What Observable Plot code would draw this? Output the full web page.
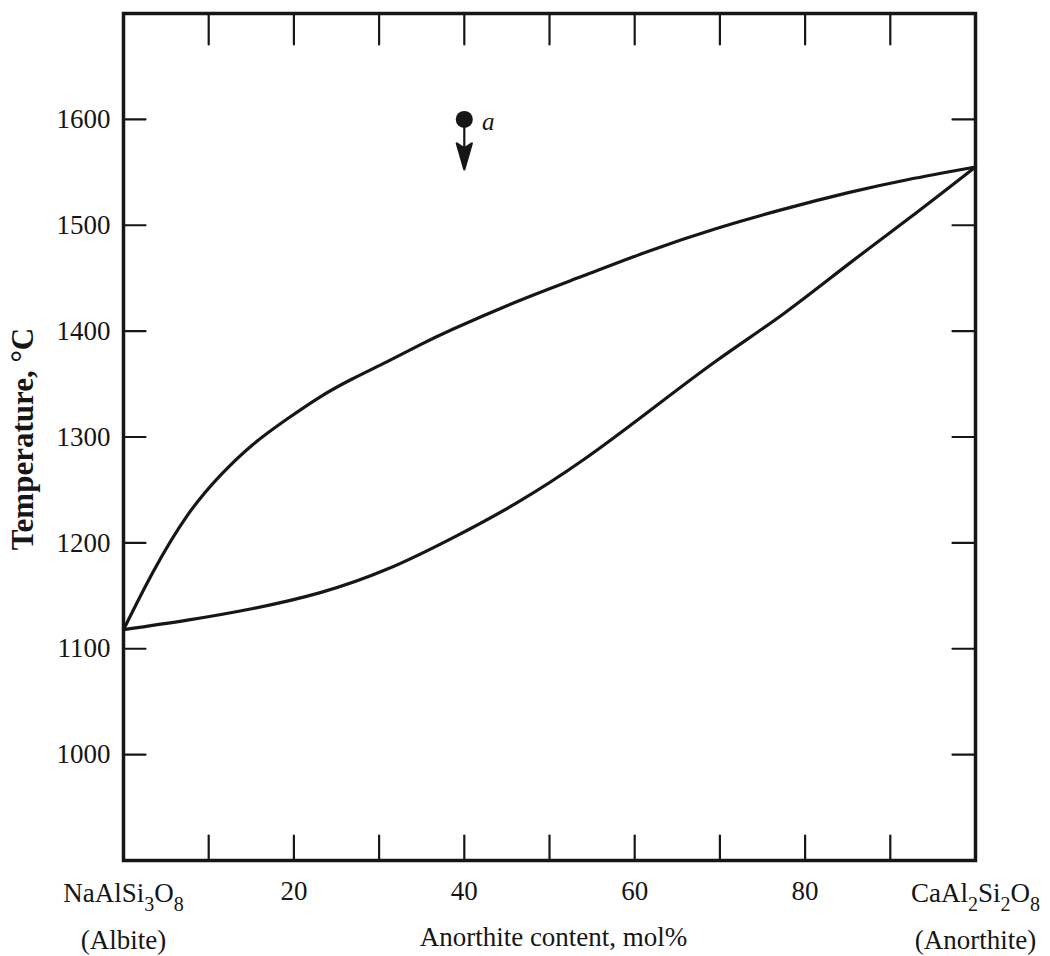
<!DOCTYPE html>
<html>
<head>
<meta charset="utf-8">
<script src="https://cdn.jsdelivr.net/npm/d3@7"></script>
<script src="https://cdn.jsdelivr.net/npm/@observablehq/plot@0.6"></script>
<style>
  html, body { margin: 0; padding: 0; background: #fff; }
  #chart { width: 1050px; height: 956px; }
</style>
</head>
<body>
<div id="chart"></div>
<script>
// ---- data ----
const liquidusX = [0, 3.5, 7.5, 11.4, 15.2, 19.2, 23.1, 26.9, 30.9, 34.8, 38.7, 46.2, 53.9, 61.8, 69.6, 77.4, 85.2, 92, 100];
const liquidusT = [1118, 1173, 1226, 1264, 1293, 1317, 1338, 1355, 1371, 1387, 1402, 1428, 1452, 1476, 1497, 1515, 1531, 1543, 1555];
const solidusX = [0, 7.5, 15.2, 23.1, 30.9, 38.7, 46.2, 53.9, 61.8, 69.6, 77.4, 85.2, 93.1, 100];
const solidusT = [1118, 1127, 1138, 1153, 1175, 1205, 1238, 1278, 1325, 1372, 1416, 1464, 1512, 1555];
const pointX = [40];
const pointT = [1600];
const pointLabel = ["a"];
const xTicks = [10, 20, 30, 40, 50, 60, 70, 80, 90];
const xTickLabels = [20, 40, 60, 80];
const yTicks = [1000, 1100, 1200, 1300, 1400, 1500, 1600];
const endX = [0, 100];
const endFormula = ["NaAlSi3O8", "CaAl2Si2O8"];
const endName = ["(Albite)", "(Anorthite)"];
const xLabel = "Anorthite content, mol%";
const yLabel = "Temperature, \u00B0C";

const liquidus = liquidusX.map((x, i) => ({x, T: liquidusT[i]}));
const solidus = solidusX.map((x, i) => ({x, T: solidusT[i]}));
const point = pointX.map((x, i) => ({x, T: pointT[i], label: pointLabel[i]}));
const ends = endX.map((x, i) => ({x, formula: endFormula[i], name: endName[i]}));

const tickShape = {draw(c, l) { c.moveTo(0, 0); c.lineTo(0, -l); }};
const arrowShape = {draw(c, l) {
  c.moveTo(0, 0); c.lineTo(0, -l + 20);
  c.moveTo(0, -l); c.lineTo(-7.5, -l + 26); c.lineTo(0, -l + 21); c.lineTo(7.5, -l + 26); c.closePath();
}};

const FS = 27;
const ink = "#161616";

const chart = Plot.plot({
  width: 1050,
  height: 956,
  marginLeft: 123,
  marginRight: 75,
  marginTop: 13,
  marginBottom: 96,
  style: {fontFamily: "'Liberation Serif', 'Times New Roman', serif", background: "#fff", color: ink},
  x: {domain: [0, 100], axis: null},
  y: {domain: [900, 1700], axis: null},
  marks: [
    // inward ticks
    Plot.vector(xTicks, {x: d => d, frameAnchor: "bottom", length: 25, rotate: 0, anchor: "start", shape: tickShape, stroke: ink, strokeWidth: 2.2}),
    Plot.vector(xTicks, {x: d => d, frameAnchor: "top", length: 31, rotate: 180, anchor: "start", shape: tickShape, stroke: ink, strokeWidth: 2.2}),
    Plot.vector(yTicks, {y: d => d, frameAnchor: "left", length: 22, rotate: 90, anchor: "start", shape: tickShape, stroke: ink, strokeWidth: 2.2}),
    Plot.vector(yTicks, {y: d => d, frameAnchor: "right", length: 23, rotate: -90, anchor: "start", shape: tickShape, stroke: ink, strokeWidth: 2.2}),
    // tick labels
    Plot.text(yTicks, {y: d => d, frameAnchor: "left", text: d => String(d), textAnchor: "end", dx: -13, fontSize: FS, fill: ink}),
    Plot.text(xTickLabels, {x: d => d, frameAnchor: "bottom", text: d => String(d), dy: 31, lineAnchor: "middle", fontSize: FS, fill: ink}),
    // end-member labels
    Plot.text(ends, {x: "x", frameAnchor: "bottom", text: "formula", dy: 33, lineAnchor: "middle", fontSize: FS, fill: ink, className: "formula"}),
    Plot.text(ends, {x: "x", frameAnchor: "bottom", text: "name", dy: 80, lineAnchor: "middle", fontSize: FS, fill: ink}),
    // axis titles
    Plot.text([xLabel], {frameAnchor: "bottom", text: d => d, dy: 77, dx: 4, lineAnchor: "middle", fontSize: FS, fill: ink}),
    Plot.text([yLabel], {frameAnchor: "left", text: d => d, rotate: -90, textAnchor: "middle", dx: -100, dy: 2, lineAnchor: "middle", fontSize: 31, fontWeight: "bold", fill: ink}),
    // curves
    Plot.line(liquidus, {x: "x", y: "T", curve: "natural", stroke: ink, strokeWidth: 3.2}),
    Plot.line(solidus, {x: "x", y: "T", curve: "natural", stroke: ink, strokeWidth: 3.2}),
    // point a with arrow
    Plot.vector(point, {x: "x", y: "T", length: 50, rotate: 180, anchor: "start", shape: arrowShape, stroke: ink, fill: ink, strokeWidth: 2.2}),
    Plot.dot(point, {x: "x", y: "T", r: 8.5, fill: ink, stroke: "none"}),
    Plot.text(point, {x: "x", y: "T", text: "label", dx: 24, dy: 3, fontSize: 25, fontStyle: "italic", fill: ink}),
    Plot.frame({stroke: ink, strokeWidth: 3.5})
  ]
});

// subscripts for chemical formulas
d3.select(chart).selectAll(".formula text").each(function() {
  const el = d3.select(this);
  const s = el.text();
  el.text(null);
  let sub = false;
  for (const ch of s) {
    const isDigit = /[0-9]/.test(ch);
    const t = el.append("tspan").text(ch);
    if (isDigit && !sub) { t.attr("dy", 9).attr("font-size", 20); sub = true; }
    else if (isDigit && sub) { t.attr("font-size", 20); }
    else if (!isDigit && sub) { t.attr("dy", -9); sub = false; }
  }
});

document.getElementById("chart").appendChild(chart);
</script>
</body>
</html>
